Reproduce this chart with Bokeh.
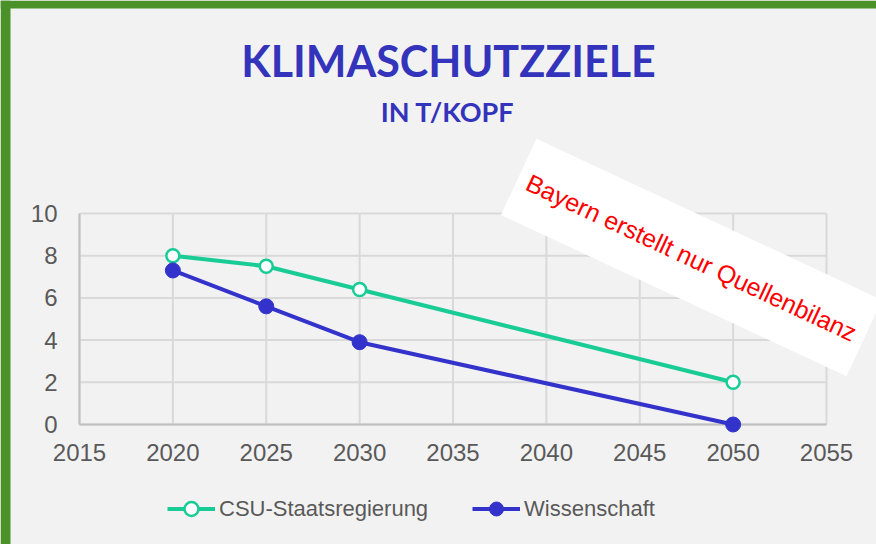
from bokeh.plotting import figure
from bokeh.models import Label, Legend, LegendItem, Range1d, FixedTicker, BoxAnnotation
from bokeh.embed import file_html
from bokeh.resources import INLINE

# ---- data ----
years_csu = [2020, 2025, 2030, 2050]
values_csu = [8.0, 7.5, 6.4, 2.0]
years_wiss = [2020, 2025, 2030, 2050]
values_wiss = [7.3, 5.6, 3.9, 0.0]
series_names = ["CSU-Staatsregierung", "Wissenschaft"]
x_ticks = [2015, 2020, 2025, 2030, 2035, 2040, 2045, 2050, 2055]
y_ticks = [0, 2, 4, 6, 8, 10]
title_text = "KLIMASCHUTZZIELE"
subtitle_text = "IN T/KOPF"
note_text = "Bayern erstellt nur Quellenbilanz"

GREEN = "#19cc96"
BLUE = "#3333cc"
TITLE_BLUE = "#3333bb"
BG = "#f2f2f2"
TXT = "#595959"
GRID = "#d9d9d9"
AXIS = "#bfbfbf"
FRAME_GREEN = "#4a9129"

# ---- layout (pixels inside the canvas) ----
W, H = 876, 544
PX_L, PX_R = 79, 826     # where the first / last x tick sit
PX_T, PX_B = 213, 424    # where the top / bottom y tick sit

x0, x1 = x_ticks[0], x_ticks[-1]
y0, y1 = y_ticks[0], y_ticks[-1]
kx = (PX_R - PX_L) / (x1 - x0)
ky = (PX_B - PX_T) / (y1 - y0)
x_range = Range1d(x0 - PX_L / kx, x1 + (W - PX_R) / kx)
y_range = Range1d(y0 - (H - PX_B) / ky, y1 + PX_T / ky)

p = figure(width=W, height=H, output_backend="svg", toolbar_location=None,
           x_range=x_range, y_range=y_range,
           min_border_left=0, min_border_right=0,
           min_border_top=0, min_border_bottom=0,
           background_fill_color=BG, border_fill_color=BG,
           outline_line_color=None)

p.xgrid.visible = False
p.ygrid.visible = False

# green slide frame (left and top edge)
p.add_layout(BoxAnnotation(left=x_range.start, right=x_range.start + 10 / kx,
                           bottom=y_range.start, top=y_range.end,
                           fill_color=FRAME_GREEN, fill_alpha=1, line_color=None))
p.add_layout(BoxAnnotation(left=x_range.start, right=x_range.end,
                           bottom=y_range.end - 8 / ky, top=y_range.end,
                           fill_color=FRAME_GREEN, fill_alpha=1, line_color=None))

# grid lines drawn from the tick lists
p.segment(x0=x_ticks, y0=[y0] * len(x_ticks), x1=x_ticks, y1=[y1] * len(x_ticks),
          line_color=GRID, line_width=2, level="underlay")
p.segment(x0=[x0] * len(y_ticks), y0=y_ticks, x1=[x1] * len(y_ticks), y1=y_ticks,
          line_color=GRID, line_width=2, level="underlay")

p.xaxis.ticker = FixedTicker(ticks=x_ticks)
p.yaxis.ticker = FixedTicker(ticks=y_ticks)
p.xaxis.fixed_location = y0
p.yaxis.fixed_location = x0
p.xaxis.bounds = (x0, x1)
p.yaxis.bounds = (y0, y1)
for ax in (p.xaxis, p.yaxis):
    ax.level = "underlay"
    ax.axis_line_color = AXIS
    ax.axis_line_width = 2
    ax.major_tick_line_color = None
    ax.minor_tick_line_color = None
    ax.major_tick_out = 0
    ax.major_tick_in = 0
    ax.major_label_text_font = "Liberation Sans"
    ax.major_label_text_font_size = "24px"
    ax.major_label_text_color = TXT
p.xaxis.major_label_standoff = 19
p.yaxis.major_label_standoff = 22

r1 = p.line(years_csu, values_csu, line_color=GREEN, line_width=4)
c1 = p.scatter(years_csu, values_csu, size=13, fill_color="white",
               line_color=GREEN, line_width=2.5)
r2 = p.line(years_wiss, values_wiss, line_color=BLUE, line_width=4)
c2 = p.scatter(years_wiss, values_wiss, size=15, fill_color=BLUE,
               line_color=BLUE, line_width=1)

legend = Legend(items=[LegendItem(label=series_names[0], renderers=[r1, c1]),
                       LegendItem(label=series_names[1], renderers=[r2, c2])],
                orientation="horizontal", location=(167, 18),
                glyph_width=48, glyph_height=35, label_standoff=4, spacing=44,
                padding=0, margin=0,
                label_text_font="Liberation Sans", label_text_font_size="22px",
                label_text_color=TXT,
                background_fill_alpha=0, border_line_alpha=0)
p.add_layout(legend)

p.add_layout(Label(x=448, y=H - 60, x_units="screen", y_units="screen",
                   text=title_text, text_align="center", text_baseline="alphabetic",
                   text_font="Lato", text_font_style="bold",
                   text_font_size="43px", text_color=TITLE_BLUE))
p.add_layout(Label(x=447, y=H - 111, x_units="screen", y_units="screen",
                   text=subtitle_text, text_align="center", text_baseline="alphabetic",
                   text_font="Lato", text_font_style="bold",
                   text_font_size="27px", text_color=TITLE_BLUE))

p.add_layout(Label(x=691, y=H - 257, x_units="screen", y_units="screen",
                   text=note_text, angle=-25, angle_units="deg",
                   text_align="center", text_baseline="middle",
                   text_font="Liberation Sans",
                   text_font_size="25px", text_color="#ff0000",
                   background_fill_color="white", padding=(10, 28)))

open("out.html", "w").write(file_html(p, INLINE))
